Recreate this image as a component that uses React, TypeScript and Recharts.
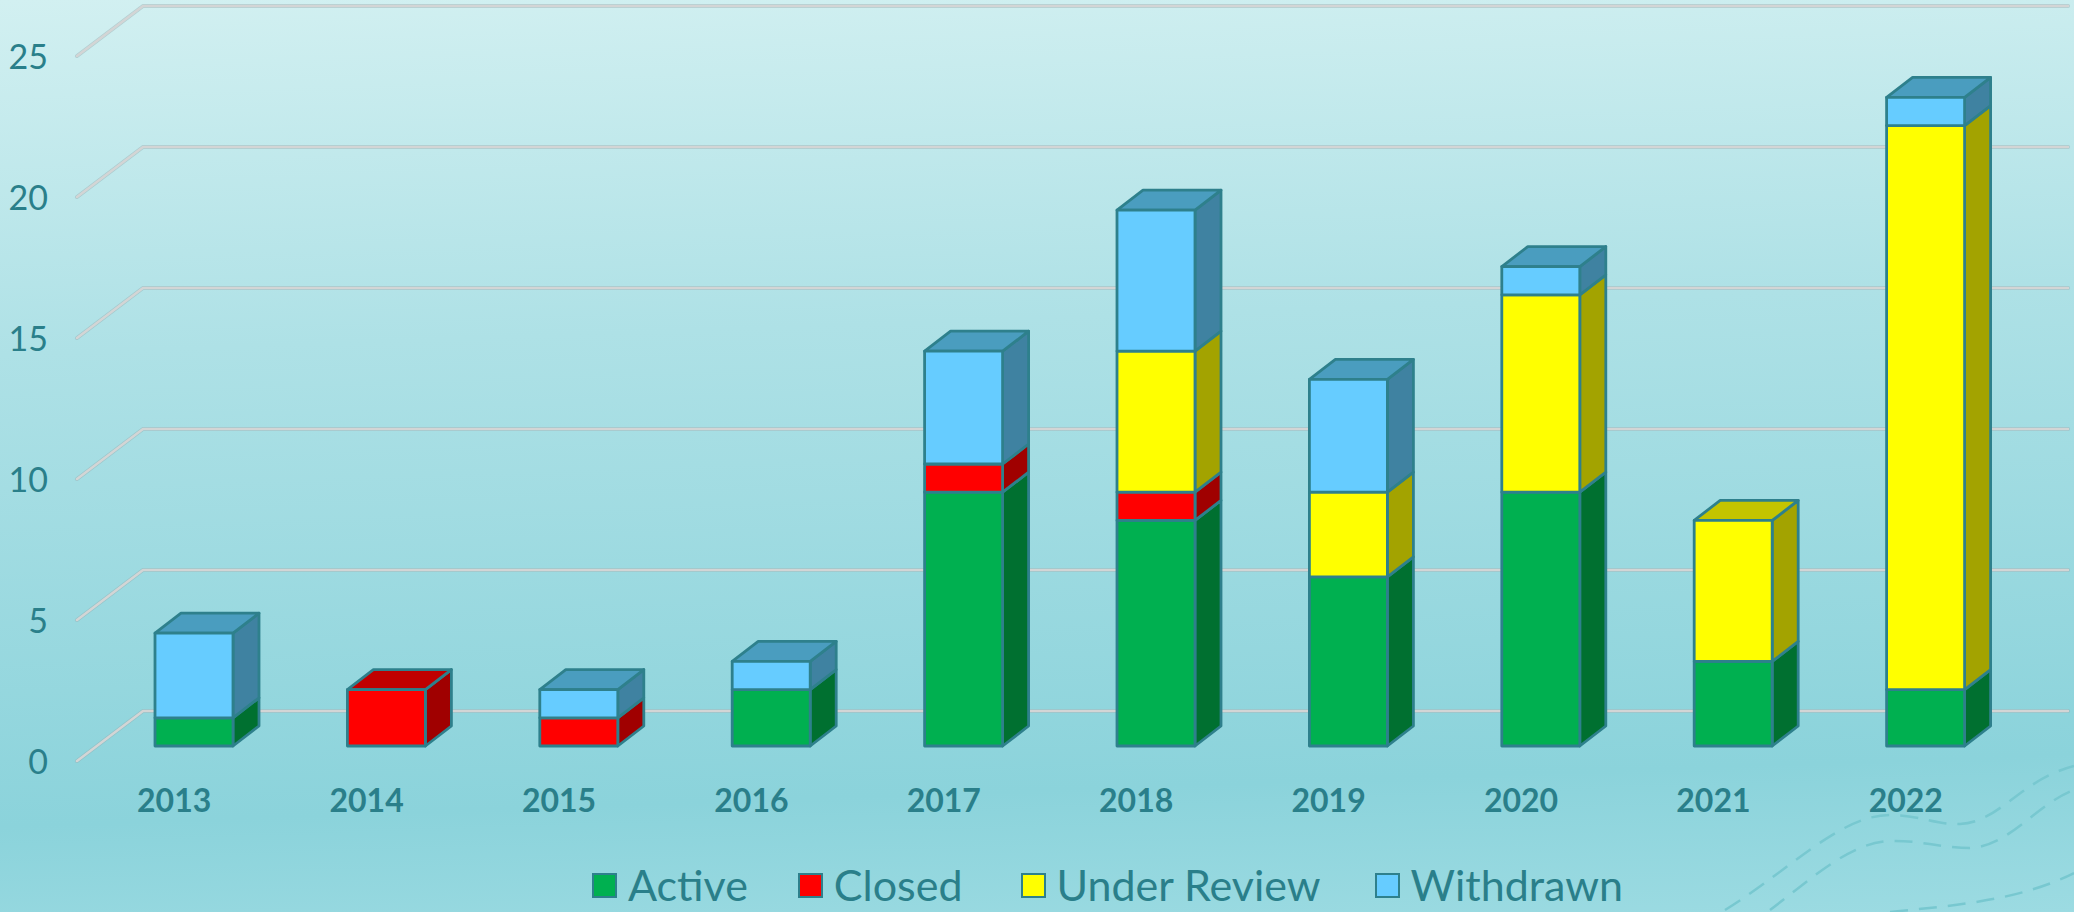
import React from 'react';
import { BarChart, Bar, XAxis, YAxis, CartesianGrid, Legend } from 'recharts';

const years = ['2013', '2014', '2015', '2016', '2017', '2018', '2019', '2020', '2021', '2022'];
const active = [1, 0, 0, 2, 9, 8, 6, 9, 3, 2];
const closed = [0, 2, 1, 0, 1, 1, 0, 0, 0, 0];
const underReview = [0, 0, 0, 0, 0, 5, 3, 7, 5, 20];
const withdrawn = [3, 0, 1, 1, 4, 5, 4, 1, 0, 1];
const yTicks = [0, 5, 10, 15, 20, 25];

const seriesNames = ['Active', 'Closed', 'Under Review', 'Withdrawn'];
const frontColors = ['#00B050', '#FF0000', '#FFFF00', '#66CCFF'];
const sideColors = ['#007030', '#A00000', '#A3A300', '#3F82A1'];
const topColors = ['#008A40', '#C00000', '#C4C400', '#4A9DBF'];

const data = years.map((year, i) => ({
  year,
  Active: active[i],
  Closed: closed[i],
  'Under Review': underReview[i],
  Withdrawn: withdrawn[i],
}));

const EDGE = '#2E808C';
const TEXT = '#2A7F8A';
const FONT = 'Lato, "Noto Sans", sans-serif';
const DEPTH_X = 26;
const DEPTH_Y = 20;
const LEGEND_GAPS = [50, 58, 54, 0];

// fake 3d box: front, right side, and a lid when nothing is stacked above it
const boxShape = (index: number) => (props: any) => {
  const { x, y, width, height, payload } = props;
  if (!height || height <= 0) return <g />;
  const isTop = seriesNames.slice(index + 1).every((name) => !payload[name]);
  const r = x + width;
  const b = y + height;
  const side = `${r},${y} ${r + DEPTH_X},${y - DEPTH_Y} ${r + DEPTH_X},${b - DEPTH_Y} ${r},${b}`;
  const lid = `${x},${y} ${x + DEPTH_X},${y - DEPTH_Y} ${r + DEPTH_X},${y - DEPTH_Y} ${r},${y}`;
  return (
    <g stroke={EDGE} strokeWidth={2.8} strokeLinejoin="round">
      <polygon points={side} fill={sideColors[index]} />
      {isTop && <polygon points={lid} fill={topColors[index]} />}
      <rect x={x} y={y} width={width} height={height} fill={frontColors[index]} />
    </g>
  );
};

const gridLine = (props: any) => {
  const { x1, x2, y1, index } = props;
  const points = `${x1 - 21},${y1 + 15} ${x1 + 45},${y1 - 35} ${x2 + 46},${y1 - 35}`;
  return (
    <g key={index} fill="none" strokeLinejoin="round" strokeLinecap="round">
      <polyline points={points} stroke="#8FA9AC" strokeOpacity={0.45} strokeWidth={4} />
      <polyline points={points} stroke="#D3D5D5" strokeWidth={2.6} />
    </g>
  );
};

const YearTick = ({ x, y, payload }: any) => (
  <text x={x - 20} y={y + 58} textAnchor="middle" fontFamily={FONT} fontSize={32} fontWeight={700} fill={TEXT}>
    {payload.value}
  </text>
);

const ValueTick = ({ y, payload }: any) => (
  <text x={48} y={y + 28} textAnchor="end" fontFamily={FONT} fontSize={34} fill={TEXT}>
    {payload.value}
  </text>
);

const LegendRow = () => (
  <div
    style={{
      position: 'relative',
      top: 14,
      display: 'flex',
      justifyContent: 'flex-start',
      alignItems: 'center',
      paddingLeft: 592,
      fontFamily: FONT,
      fontSize: 43,
      lineHeight: '40px',
      color: TEXT,
    }}
  >
    {seriesNames.map((name, i) => (
      <span key={name} style={{ display: 'flex', alignItems: 'center', marginRight: LEGEND_GAPS[i] }}>
        <span
          style={{
            width: 21,
            height: 21,
            marginRight: 11,
            background: frontColors[i],
            border: `2px solid ${EDGE}`,
          }}
        />
        {name}
      </span>
    ))}
  </div>
);

const App = () => {
  return (
    <div
      style={{
        position: 'absolute',
        left: 0,
        top: 0,
        width: 2074,
        height: 912,
        overflow: 'hidden',
        background: 'linear-gradient(178deg, #D2F0F1 0%, #AEE1E6 36%, #8BD3DB 84%, #9CDBE2 100%)',
      }}
    >
      <svg width={2074} height={912} style={{ position: 'absolute', left: 0, top: 0 }}>
        <g fill="none" stroke="#78C8D0" strokeWidth={2.5} strokeDasharray="18 11">
          <path d="M1725 910 C1790 870 1840 815 1890 815 C1920 815 1935 825 1960 824 C2000 822 2020 780 2074 766" />
          <path d="M1770 910 C1810 880 1850 842 1890 841 C1920 840 1940 848 1970 848 C2010 846 2035 805 2074 790" />
          <path d="M1890 912 C1960 905 2020 900 2074 873" />
        </g>
      </svg>
      <div style={{ position: 'absolute', left: 0, top: 0 }}>
        <BarChart
          width={2074}
          height={912}
          data={data}
          margin={{ top: 41, right: 52, left: 0, bottom: 1 }}
          barSize={78}
        >
          <CartesianGrid vertical={false} horizontal={gridLine} />
          <XAxis dataKey="year" interval={0} height={105} axisLine={false} tickLine={false} tick={<YearTick />} />
          <YAxis
            width={98}
            domain={[0, 25]}
            ticks={yTicks}
            axisLine={false}
            tickLine={false}
            tick={<ValueTick />}
          />
          <Legend verticalAlign="bottom" height={60} content={<LegendRow />} />
          {seriesNames.map((name, i) => (
            <Bar key={name} dataKey={name} stackId="a" shape={boxShape(i)} isAnimationActive={false} />
          ))}
        </BarChart>
      </div>
    </div>
  );
};

export default App;
